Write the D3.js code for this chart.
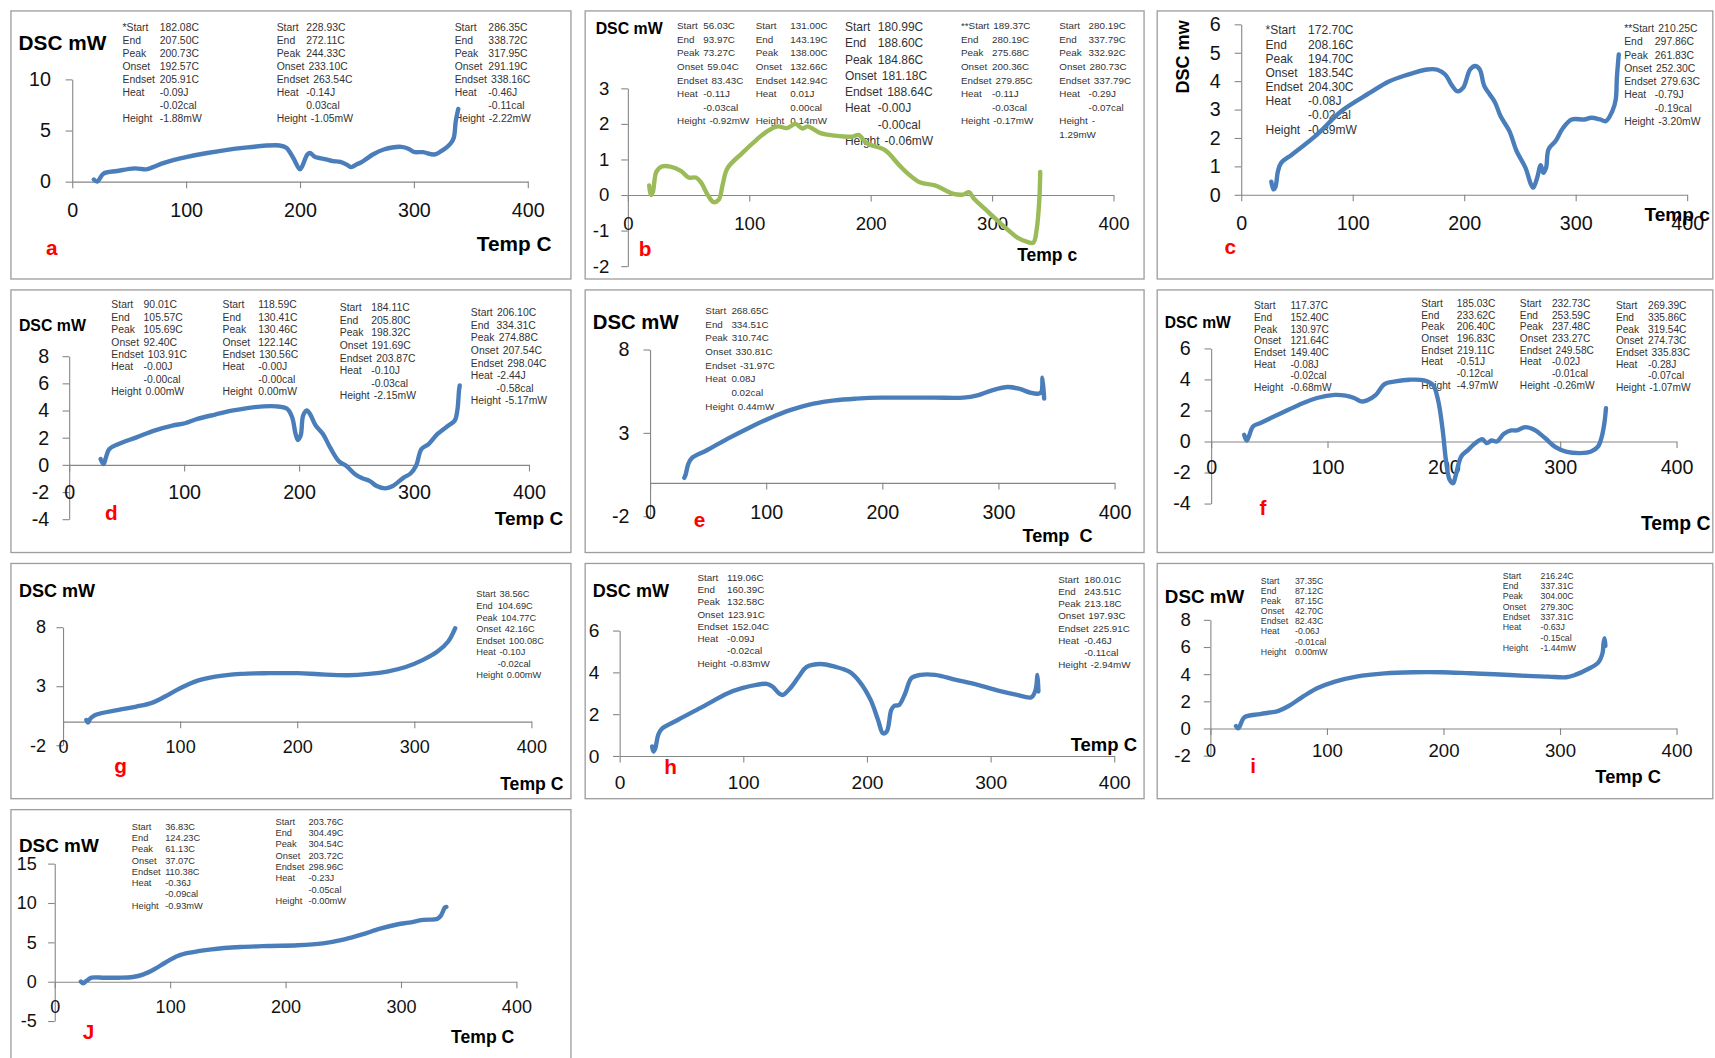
<!DOCTYPE html>
<html>
<head>
<meta charset="utf-8">
<script src="https://cdn.jsdelivr.net/npm/d3@7"></script>
<style>
  body { margin: 0; background: #fff; }
  text { font-family: "Liberation Sans", Arial, sans-serif; }
</style>
</head>
<body>
<svg id="fig"></svg>
<script>
// temperature ticks, same on every panel
const tempTicks = [0, 100, 200, 300, 400];

// DSC curves: [temp C, mW]
const curveA = [[19,0.2],[22,0],[27.5,0.78],[39.5,1.04],[55,1.3],[65,1.2],[71,1.42],[80.6,1.84],[100,2.4],[118.6,2.8],[150,3.3],[182,3.53],[188,3.3],[194,2.33],[200,1.2],[202,1.5],[206.5,2.65],[209,2.8],[213,2.43],[223,2.17],[229,2.0],[235.5,1.94],[242,1.6],[245,1.42],[250,1.7],[253,1.84],[257.7,2.17],[264,2.65],[273.5,3.14],[289,3.4],[295.7,3.2],[300,2.9],[308,2.88],[318,2.65],[324,2.98],[332,3.69],[335,4.27],[336.8,5.9],[339,7.1]];
const curveB = [[17.6,0.27],[19,0],[20.6,0.08],[23.5,0.65],[28,0.8],[35,0.8],[44,0.67],[50,0.49],[56,0.49],[60,0.37],[66,-0.01],[70.6,-0.2],[75,-0.13],[78,0.27],[82,0.75],[94,1.17],[106,1.55],[114.7,1.79],[123.5,1.93],[131,1.88],[138,2.0],[144,1.87],[148,1.93],[158.8,1.74],[170.6,1.67],[185,1.64],[190,1.69],[197,1.45],[211.8,1.26],[223.5,0.84],[232,0.56],[241,0.35],[253,0.27],[267.6,0.04],[276,0.01],[281,0.08],[285,-0.1],[297,-0.48],[309,-0.86],[320.6,-1.19],[329,-1.32],[334,-1.34],[336.8,-0.96],[339,-0.1],[339.7,0.65]];
const curveC = [[27,0.46],[29,0.19],[30.7,0.27],[33,0.83],[36,1.13],[45.7,1.42],[68,2.12],[90,2.95],[116,3.6],[132,3.98],[148,4.21],[167,4.41],[176,4.4],[183,4.23],[189.5,3.82],[194,3.64],[199,3.76],[205.4,4.41],[210,4.53],[214,4.41],[218,3.83],[223,3.53],[227.8,3.24],[232.6,2.77],[240.6,2.24],[247,1.54],[255,0.95],[260,0.36],[262,0.25],[265.5,0.6],[268.7,1.04],[271,0.77],[273.5,0.95],[275.7,1.6],[282,1.89],[288.5,2.34],[296.5,2.65],[307.7,2.65],[314,2.71],[322,2.65],[327,2.59],[333,2.95],[336,3.36],[337,4.12],[338.7,4.94]];
const curveD = [[27.4,0.42],[30,0.05],[32,0.54],[35,1.16],[43,1.53],[58.6,2.02],[74,2.52],[89.8,2.89],[100.7,3.06],[111.6,3.38],[127,3.7],[142.8,4.0],[161.5,4.25],[180,4.3],[189.6,4.12],[194,3.5],[197,2.27],[199,1.83],[201.4,2.15],[203.6,3.63],[206.7,4.0],[209.8,3.7],[214.5,2.89],[220.8,2.27],[227,1.28],[234.8,0.25],[241,-0.07],[248.8,-0.69],[255,-0.99],[261.3,-1.18],[267.5,-1.56],[275.3,-1.73],[281.6,-1.56],[291,-0.94],[297,-0.64],[301.8,-0.07],[306.5,1.16],[312.7,1.53],[320.5,2.27],[330,2.89],[335.5,3.26],[337.7,4.0],[339.2,5.48],[339.8,5.85]];
const curveE = [[29.5,0.3],[30.7,0.5],[33,1.14],[36,1.48],[48.6,1.94],[67,2.65],[85.5,3.31],[104,3.91],[122,4.39],[140.8,4.75],[159,4.95],[177.7,5.05],[199,5.11],[220.7,5.11],[245,5.11],[269.9,5.11],[282,5.25],[294.5,5.55],[308,5.75],[317.6,5.65],[328.3,5.39],[334.5,5.35],[337,5.45],[338,6.3],[339.4,5.05]];
const curveF = [[28.4,0.43],[30.6,0.06],[32.4,0.32],[36,0.97],[42,1.18],[60.5,1.83],[75.8,2.37],[91,2.8],[106.4,3.0],[115.6,2.95],[123,2.8],[129,2.58],[134,2.65],[141.6,3.0],[149,3.7],[158.4,3.87],[170.6,3.98],[183,3.94],[190.5,3.66],[195,2.69],[199,0.75],[201.8,-1.18],[205,-2.47],[208,-2.69],[210,-2.26],[215,-0.97],[221,-0.54],[227,-0.11],[233,0.15],[237,-0.11],[241,0.06],[245.6,0.0],[251.7,0.49],[257.8,0.71],[262.4,0.71],[270,0.92],[277.7,0.75],[287,0.22],[296,-0.37],[305,-0.65],[317.4,-0.75],[326.6,-0.65],[332.7,-0.32],[335.8,0.32],[338,1.18],[339.4,2.15]];
const curveG = [[19.9,0.14],[21.4,-0.08],[23.6,0.28],[27.5,0.56],[47.4,0.99],[62.7,1.27],[76.5,1.61],[87.2,2.12],[100,2.82],[115,3.47],[130,3.81],[151.5,4.04],[176,4.1],[200.4,4.1],[218.8,4.01],[243,3.93],[261.6,4.04],[276.9,4.24],[292,4.6],[307.5,5.23],[319.8,5.93],[329,6.78],[335,7.91]];
const curveH = [[26.3,0.45],[27.4,0.21],[28.9,0.37],[31.2,1.0],[34,1.29],[47,1.72],[67.3,2.36],[87.5,3.0],[99,3.24],[110.6,3.4],[119,3.45],[123.6,3.32],[129.4,2.97],[132,2.92],[138,3.24],[145,3.8],[151,4.25],[162.6,4.4],[174,4.27],[185.7,4.03],[194,3.56],[203,2.68],[209,1.72],[213,1.08],[216,1.16],[219.7,2.2],[222,2.39],[226,2.44],[231,3.0],[236,3.72],[243.4,3.88],[255,3.88],[272,3.64],[289.6,3.4],[307,3.11],[321.4,2.92],[333,2.81],[336.4,3.16],[338,3.88],[338.7,3.08]];
const curveI = [[22,0.17],[23.8,0],[25.3,0.17],[29,0.81],[42.8,1.06],[58,1.28],[67.2,1.65],[79.4,2.34],[91.6,2.96],[106.9,3.45],[125.2,3.82],[149.6,4.06],[174,4.14],[198.5,4.14],[223,4.06],[244,3.99],[271.8,3.87],[290,3.82],[305.3,3.77],[313,3.94],[323.7,4.36],[332.8,4.85],[336.5,5.54],[337.4,6.28],[338.3,6.65],[339,6.08]];
const curveJ = [[22.7,0],[24.8,-0.2],[27.3,0.08],[32,0.5],[42.9,0.5],[55.3,0.5],[67.7,0.59],[77,0.93],[86.3,1.57],[95.6,2.4],[106.5,3.26],[117.4,3.69],[136,4.11],[160.9,4.4],[185.7,4.53],[210.6,4.62],[232.3,4.87],[251,5.38],[266.5,6.0],[282,6.74],[297.5,7.29],[306.8,7.5],[319.3,7.84],[331.7,8.0],[334.8,8.43],[338,9.4],[339.4,9.5]];

// y tick values per panel
const ticksA = [0, 5, 10];
const ticksB = [-2, -1, 0, 1, 2, 3];
const ticksC = [0, 1, 2, 3, 4, 5, 6];
const ticksD = [-4, -2, 0, 2, 4, 6, 8];
const ticksE = [-2, 3, 8];
const ticksF = [-4, -2, 0, 2, 4, 6];
const ticksG = [-2, 3, 8];
const ticksH = [0, 2, 4, 6];
const ticksI = [-2, 0, 2, 4, 6, 8];
const ticksJ = [-5, 0, 5, 10, 15];

// peak annotation texts: [label, value]
const annoA1 = [["*Start","182.08C"],["End","207.50C"],["Peak","200.73C"],["Onset","192.57C"],["Endset","205.91C"],["Heat","-0.09J"],["","-0.02cal"],["Height","-1.88mW"]];
const annoA2 = [["Start","228.93C"],["End","272.11C"],["Peak","244.33C"],["Onset","233.10C"],["Endset","263.54C"],["Heat","-0.14J"],["","0.03cal"],["Height","-1.05mW"]];
const annoA3 = [["Start","286.35C"],["End","338.72C"],["Peak","317.95C"],["Onset","291.19C"],["Endset","338.16C"],["Heat","-0.46J"],["","-0.11cal"],["Height","-2.22mW"]];
const annoB1 = [["Start","56.03C"],["End","93.97C"],["Peak","73.27C"],["Onset","59.04C"],["Endset","83.43C"],["Heat","-0.11J"],["","-0.03cal"],["Height","-0.92mW"]];
const annoB2 = [["Start","131.00C"],["End","143.19C"],["Peak","138.00C"],["Onset","132.66C"],["Endset","142.94C"],["Heat","0.01J"],["","0.00cal"],["Height","0.14mW"]];
const annoB3 = [["Start","180.99C"],["End","188.60C"],["Peak","184.86C"],["Onset","181.18C"],["Endset","188.64C"],["Heat","-0.00J"],["","-0.00cal"],["Height","-0.06mW"]];
const annoB4 = [["**Start","189.37C"],["End","280.19C"],["Peak","275.68C"],["Onset","200.36C"],["Endset","279.85C"],["Heat","-0.11J"],["","-0.03cal"],["Height","-0.17mW"]];
const annoB5 = [["Start","280.19C"],["End","337.79C"],["Peak","332.92C"],["Onset","280.73C"],["Endset","337.79C"],["Heat","-0.29J"],["","-0.07cal"],["Height","-"],["1.29mW",""]];
const annoC1 = [["*Start","172.70C"],["End","208.16C"],["Peak","194.70C"],["Onset","183.54C"],["Endset","204.30C"],["Heat","-0.08J"],["","-0.02cal"],["Height","-0.89mW"]];
const annoC2 = [["**Start","210.25C"],["End","297.86C"],["Peak","261.83C"],["Onset","252.30C"],["Endset","279.63C"],["Heat","-0.79J"],["","-0.19cal"],["Height","-3.20mW"]];
const annoD1 = [["Start","90.01C"],["End","105.57C"],["Peak","105.69C"],["Onset","92.40C"],["Endset","103.91C"],["Heat","-0.00J"],["","-0.00cal"],["Height","0.00mW"]];
const annoD2 = [["Start","118.59C"],["End","130.41C"],["Peak","130.46C"],["Onset","122.14C"],["Endset","130.56C"],["Heat","-0.00J"],["","-0.00cal"],["Height","0.00mW"]];
const annoD3 = [["Start","184.11C"],["End","205.80C"],["Peak","198.32C"],["Onset","191.69C"],["Endset","203.87C"],["Heat","-0.10J"],["","-0.03cal"],["Height","-2.15mW"]];
const annoD4 = [["Start","206.10C"],["End","334.31C"],["Peak","274.88C"],["Onset","207.54C"],["Endset","298.04C"],["Heat","-2.44J"],["","-0.58cal"],["Height","-5.17mW"]];
const annoE1 = [["Start","268.65C"],["End","334.51C"],["Peak","310.74C"],["Onset","330.81C"],["Endset","-31.97C"],["Heat","0.08J"],["","0.02cal"],["Height","0.44mW"]];
const annoF1 = [["Start","117.37C"],["End","152.40C"],["Peak","130.97C"],["Onset","121.64C"],["Endset","149.40C"],["Heat","-0.08J"],["","-0.02cal"],["Height","-0.68mW"]];
const annoF2 = [["Start","185.03C"],["End","233.62C"],["Peak","206.40C"],["Onset","196.83C"],["Endset","219.11C"],["Heat","-0.51J"],["","-0.12cal"],["Height","-4.97mW"]];
const annoF3 = [["Start","232.73C"],["End","253.59C"],["Peak","237.48C"],["Onset","233.27C"],["Endset","249.58C"],["Heat","-0.02J"],["","-0.01cal"],["Height","-0.26mW"]];
const annoF4 = [["Start","269.39C"],["End","335.86C"],["Peak","319.54C"],["Onset","274.73C"],["Endset","335.83C"],["Heat","-0.28J"],["","-0.07cal"],["Height","-1.07mW"]];
const annoG1 = [["Start","38.56C"],["End","104.69C"],["Peak","104.77C"],["Onset","42.16C"],["Endset","100.08C"],["Heat","-0.10J"],["","-0.02cal"],["Height","0.00mW"]];
const annoH1 = [["Start","119.06C"],["End","160.39C"],["Peak","132.58C"],["Onset","123.91C"],["Endset","152.04C"],["Heat","-0.09J"],["","-0.02cal"],["Height","-0.83mW"]];
const annoH2 = [["Start","180.01C"],["End","243.51C"],["Peak","213.18C"],["Onset","197.93C"],["Endset","225.91C"],["Heat","-0.46J"],["","-0.11cal"],["Height","-2.94mW"]];
const annoI1 = [["Start","37.35C"],["End","87.12C"],["Peak","87.15C"],["Onset","42.70C"],["Endset","82.43C"],["Heat","-0.06J"],["","-0.01cal"],["Height","0.00mW"]];
const annoI2 = [["Start","216.24C"],["End","337.31C"],["Peak","304.00C"],["Onset","279.30C"],["Endset","337.31C"],["Heat","-0.63J"],["","-0.15cal"],["Height","-1.44mW"]];
const annoJ1 = [["Start","36.83C"],["End","124.23C"],["Peak","61.13C"],["Onset","37.07C"],["Endset","110.38C"],["Heat","-0.36J"],["","-0.09cal"],["Height","-0.93mW"]];
const annoJ2 = [["Start","203.76C"],["End","304.49C"],["Peak","304.54C"],["Onset","203.72C"],["Endset","298.96C"],["Heat","-0.23J"],["","-0.05cal"],["Height","-0.00mW"]];

const BLUE = '#4a7ebb';
const GREEN = '#9bbb59';

// layout of each panel (in the 1568 x 967 frame)
const panels = [
  { data: curveA, color: BLUE, box: [10,10,512,245], xr: [66,482.5], yd: [0,10], yr: [166,72.5], yt: ticksA, fs: 18, yLab: 46.5, xLab: 198,
    dsc: { x: 17, y: 46, fs: 19, t: 'DSC mW' }, temp: { x: 436, y: 229.5, fs: 19, t: 'Temp C' }, letter: { x: 42, y: 233, t: 'a' },
    annos: [ { x: 112, vx: 146, y: 28, lh: 11.9, fs: 9.5, lines: annoA1 }, { x: 253, vx: 280, y: 28.3, lh: 11.9, fs: 9.5, lines: annoA2 }, { x: 415.7, vx: 446.5, y: 28.3, lh: 11.9, fs: 9.5, lines: annoA3 } ] },
  { data: curveB, color: GREEN, box: [535,10,511,245], xr: [574,1018], yd: [-2,3], yr: [243.2,80.7], yt: ticksB, fs: 17, yLab: 557, xLab: 210,
    dsc: { x: 544.6, y: 30.8, fs: 14.5, t: 'DSC mW' }, temp: { x: 930, y: 239, fs: 16, t: 'Temp c' }, letter: { x: 584, y: 234, t: 'b' },
    annos: [ { x: 619, vx: 643, y: 26.8, lh: 12.4, fs: 9, lines: annoB1 }, { x: 691, vx: 722.6, y: 26.8, lh: 12.4, fs: 9, lines: annoB2 },
             { x: 772.5, vx: 802.6, y: 28.3, lh: 14.9, fs: 11, lines: annoB3 }, { x: 878.6, vx: 907, y: 26.8, lh: 12.4, fs: 9, lines: annoB4 },
             { x: 968.5, vx: 995.3, y: 26.8, lh: 12.4, fs: 9, lines: annoB5 } ] },
  { data: curveC, color: BLUE, box: [1058,10,508,245], xr: [1134.8,1542.5], yd: [0,6], yr: [178,22.2], yt: ticksC, fs: 18, yLab: 1116, xLab: 210,
    dsc: { x: 1087, y: 52, fs: 16.5, t: 'DSC mw', rot: true }, temp: { x: 1503.5, y: 202, fs: 17.5, t: 'Temp c' }, letter: { x: 1119.6, y: 232.5, t: 'c' },
    annos: [ { x: 1157, vx: 1196, y: 31.4, lh: 12.95, fs: 11, lines: annoC1 }, { x: 1485, vx: 1513, y: 29.5, lh: 12.07, fs: 9.5, lines: annoC2 } ] },
  { data: curveD, color: BLUE, box: [10,265,512,240], xr: [63.2,483.6], yd: [-4,8], yr: [474.5,325.5], yt: ticksD, fs: 18, yLab: 45, xLab: 456,
    dsc: { x: 17.3, y: 302.3, fs: 14.5, t: 'DSC mW' }, temp: { x: 452.4, y: 480, fs: 17.4, t: 'Temp C' }, letter: { x: 96, y: 475.4, t: 'd' },
    annos: [ { x: 101.8, vx: 131.3, y: 281.6, lh: 11.4, fs: 9.5, lines: annoD1 }, { x: 203.4, vx: 236.2, y: 281.6, lh: 11.4, fs: 9.5, lines: annoD2 },
             { x: 310.6, vx: 339.4, y: 284.6, lh: 11.46, fs: 9.5, lines: annoD3 }, { x: 430.5, vx: 454, y: 289.2, lh: 11.46, fs: 9.5, lines: annoD4 } ] },
  { data: curveE, color: BLUE, box: [535,265,511,240], xr: [594.3,1019], yd: [-2,8], yr: [471.8,319.4], yt: ticksE, fs: 18, yLab: 575.6, xLab: 474,
    dsc: { x: 542, y: 301, fs: 18.6, t: 'DSC mW' }, temp: { x: 934.8, y: 495.2, fs: 16.6, t: 'Temp  C' }, letter: { x: 634.4, y: 482.1, t: 'e' },
    annos: [ { x: 644.9, vx: 668.7, y: 287, lh: 12.5, fs: 9, lines: annoE1 } ] },
  { data: curveF, color: BLUE, box: [1058,265,508,240], xr: [1107.3,1532.8], yd: [-4,6], yr: [460.2,318.4], yt: ticksF, fs: 18, yLab: 1088.7, xLab: 433,
    dsc: { x: 1065, y: 300.2, fs: 14.3, t: 'DSC mW' }, temp: { x: 1500.3, y: 484.5, fs: 17.7, t: 'Temp C' }, letter: { x: 1151.5, y: 470.8, t: 'f' },
    annos: [ { x: 1146.6, vx: 1179.8, y: 282.8, lh: 10.67, fs: 9.3, lines: annoF1 }, { x: 1299.5, vx: 1332, y: 280.7, lh: 10.67, fs: 9.3, lines: annoF2 },
             { x: 1389.6, vx: 1418.9, y: 280.7, lh: 10.67, fs: 9.3, lines: annoF3 }, { x: 1477.4, vx: 1506.8, y: 282.8, lh: 10.67, fs: 9.3, lines: annoF4 } ] },
  { data: curveG, color: BLUE, box: [10,515,512,215], xr: [57.6,485.8], yd: [-2,8], yr: [681.1,573.2], yt: ticksG, fs: 16.5, yLab: 42, xLab: 688,
    dsc: { x: 17.3, y: 545.2, fs: 16.5, t: 'DSC mW' }, temp: { x: 457.3, y: 722, fs: 16.1, t: 'Temp C' }, letter: { x: 104.4, y: 706.7, t: 'g' },
    annos: [ { x: 435.4, vx: 455, y: 546, lh: 10.57, fs: 8.5, lines: annoG1 } ] },
  { data: curveH, color: BLUE, box: [535,515,511,215], xr: [566.5,1018.7], yd: [0,6], yr: [690.9,576.3], yt: ticksH, fs: 17.5, yLab: 548, xLab: 721,
    dsc: { x: 542, y: 545.2, fs: 16.5, t: 'DSC mW' }, temp: { x: 978.9, y: 686, fs: 16.9, t: 'Temp C' }, letter: { x: 607.3, y: 707.3, t: 'h' },
    annos: [ { x: 637.7, vx: 664.8, y: 530.9, lh: 11.2, fs: 9, lines: annoH1 }, { x: 967.5, vx: 991.3, y: 532.4, lh: 11.2, fs: 9, lines: annoH2 } ] },
  { data: curveI, color: BLUE, box: [1058,515,508,215], xr: [1106.6,1532.8], yd: [-2,8], yr: [690.6,566.5], yt: ticksI, fs: 17, yLab: 1088.7, xLab: 692,
    dsc: { x: 1065, y: 550.7, fs: 17.2, t: 'DSC mW' }, temp: { x: 1458.6, y: 715.9, fs: 16.7, t: 'Temp C' }, letter: { x: 1143, y: 706.7, t: 'i' },
    annos: [ { x: 1152.8, vx: 1184, y: 533.6, lh: 9.26, fs: 8, lines: annoI1 }, { x: 1374, vx: 1408.5, y: 529.1, lh: 9.4, fs: 8, lines: annoI2 } ] },
  { data: curveJ, color: BLUE, box: [10,740,512,240], xr: [50,472.1], yd: [-5,15], yr: [933.2,789.3], yt: ticksJ, fs: 16.5, yLab: 33.6, xLab: 926,
    dsc: { x: 17.3, y: 778.3, fs: 17.3, t: 'DSC mW' }, temp: { x: 412.4, y: 952.9, fs: 16.1, t: 'Temp C' }, letter: { x: 75.6, y: 949.9, t: 'J' },
    annos: [ { x: 120.5, vx: 151, y: 758.5, lh: 10.3, fs: 8.5, lines: annoJ1 }, { x: 251.9, vx: 282, y: 754, lh: 10.3, fs: 8.5, lines: annoJ2 } ] }
];

const svg = d3.select('#fig')
    .attr('width', 1715)
    .attr('height', 1058)
    .attr('viewBox', '0 0 1568 967')
    .attr('preserveAspectRatio', 'none');

svg.append('rect').attr('width', 1568).attr('height', 967).attr('fill', '#fff');

// plain numbers with a hyphen minus, like the original
const plain = d => String(d);

panels.forEach(p => {
    const g = svg.append('g');

    // panel frame
    g.append('rect')
        .attr('x', p.box[0]).attr('y', p.box[1])
        .attr('width', p.box[2]).attr('height', p.box[3])
        .attr('fill', 'none')
        .attr('stroke', '#9d9d9d')
        .attr('stroke-width', 1.2);

    const x = d3.scaleLinear().domain([0, 400]).range(p.xr);
    const y = d3.scaleLinear().domain(p.yd).range(p.yr);

    // y axis, ticks outside
    g.append('g')
        .attr('transform', `translate(${p.xr[0]},0)`)
        .call(d3.axisLeft(y).tickValues(p.yt).tickFormat(plain).tickSize(6).tickSizeOuter(0)
            .tickPadding(p.xr[0] - p.yLab - 6))
        .call(a => {
            a.selectAll('path, line').attr('stroke', '#868686');
            a.selectAll('text').attr('font-size', p.fs).attr('fill', '#111');
        });

    // x axis along zero
    g.append('g')
        .attr('transform', `translate(0,${y(0)})`)
        .call(d3.axisBottom(x).tickValues(tempTicks).tickFormat(plain).tickSize(6).tickSizeOuter(0))
        .call(a => {
            a.selectAll('path, line').attr('stroke', '#868686');
            a.selectAll('text')
                .attr('y', p.xLab - y(0))
                .attr('dy', null)
                .attr('font-size', p.fs)
                .attr('fill', '#111');
        });

    // annotations; value pushed right if the label runs into it
    p.annos.forEach(b => {
        b.lines.forEach((l, i) => {
            const ty = b.y + i * b.lh;
            let vx = b.vx;
            if (l[0]) {
                const lab = g.append('text').attr('x', b.x).attr('y', ty)
                    .attr('font-size', b.fs).attr('fill', '#333').text(l[0]);
                vx = Math.max(vx, b.x + lab.node().getComputedTextLength() + b.fs * 0.4);
            }
            if (l[1]) g.append('text').attr('x', vx).attr('y', ty)
                .attr('font-size', b.fs).attr('fill', '#333').text(l[1]);
        });
    });

    // DSC curve
    const line = d3.line()
        .x(d => x(d[0]))
        .y(d => y(d[1]))
        .curve(d3.curveCatmullRom.alpha(0.5));

    g.append('path')
        .datum(p.data)
        .attr('d', line)
        .attr('fill', 'none')
        .attr('stroke', p.color)
        .attr('stroke-width', 4)
        .attr('stroke-linecap', 'round')
        .attr('stroke-linejoin', 'round');

    // axis titles
    const dsc = g.append('text')
        .attr('font-size', p.dsc.fs)
        .attr('font-weight', 'bold')
        .attr('fill', '#000')
        .text(p.dsc.t);
    if (p.dsc.rot) {
        dsc.attr('text-anchor', 'middle')
           .attr('transform', `translate(${p.dsc.x},${p.dsc.y}) rotate(-90)`);
    } else {
        dsc.attr('x', p.dsc.x).attr('y', p.dsc.y);
    }

    g.append('text')
        .attr('x', p.temp.x).attr('y', p.temp.y)
        .attr('font-size', p.temp.fs)
        .attr('font-weight', 'bold')
        .attr('fill', '#000')
        .style('white-space', 'pre')
        .text(p.temp.t);

    // panel letter
    g.append('text')
        .attr('x', p.letter.x).attr('y', p.letter.y)
        .attr('font-size', 19)
        .attr('font-weight', 'bold')
        .attr('fill', '#ff0000')
        .text(p.letter.t);
});
</script>
</body>
</html>
